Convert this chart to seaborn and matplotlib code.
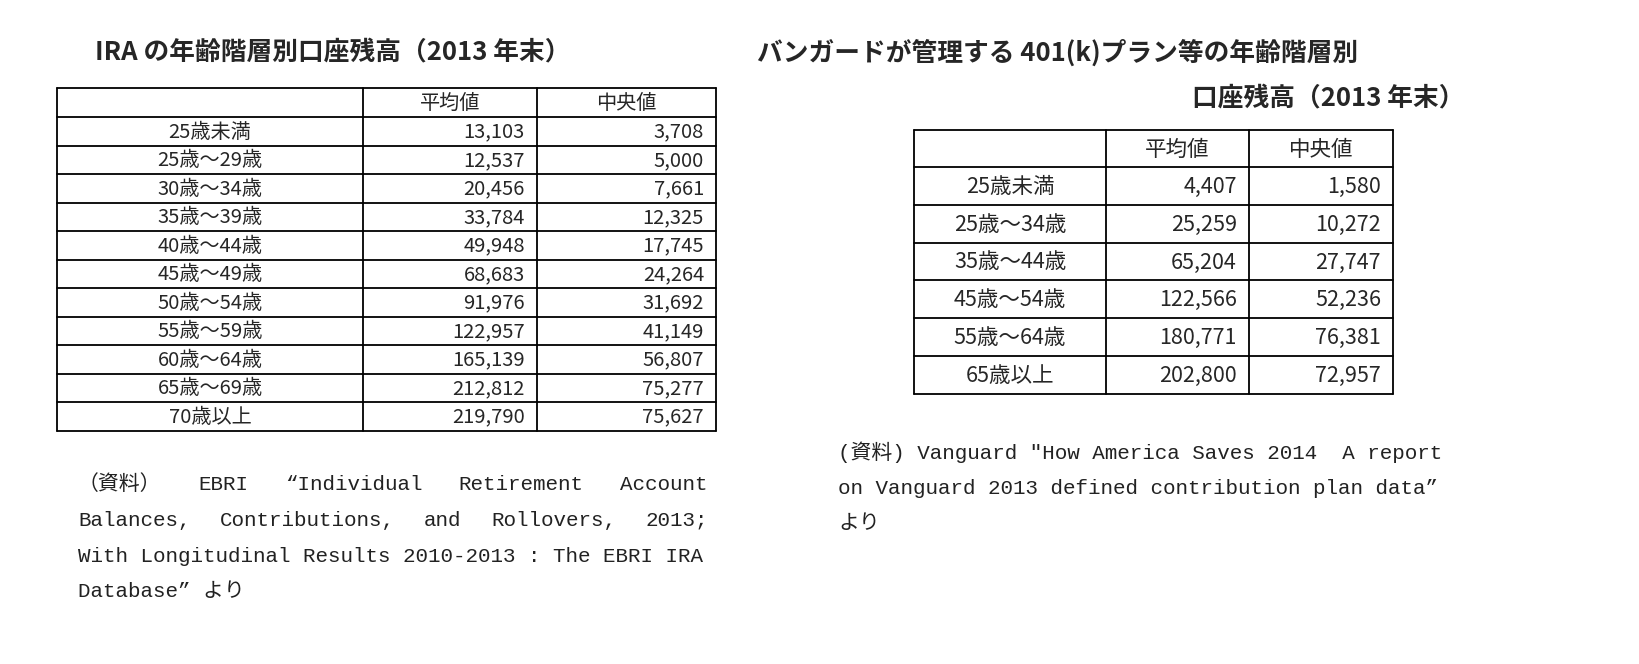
import matplotlib
matplotlib.use("Agg")
import matplotlib.pyplot as plt
import seaborn as sns

sns.set_theme(style="white")
plt.rcParams["font.family"] = "Noto Sans CJK JP"

ira_headers = ["", "平均値", "中央値"]
ira_ages = ["25歳未満", "25歳～29歳", "30歳～34歳", "35歳～39歳", "40歳～44歳", "45歳～49歳",
            "50歳～54歳", "55歳～59歳", "60歳～64歳", "65歳～69歳", "70歳以上"]
ira_mean = [13103, 12537, 20456, 33784, 49948, 68683, 91976, 122957, 165139, 212812, 219790]
ira_median = [3708, 5000, 7661, 12325, 17745, 24264, 31692, 41149, 56807, 75277, 75627]

vg_headers = ["", "平均値", "中央値"]
vg_ages = ["25歳未満", "25歳～34歳", "35歳～44歳", "45歳～54歳", "55歳～64歳", "65歳以上"]
vg_mean = [4407, 25259, 65204, 122566, 180771, 202800]
vg_median = [1580, 10272, 27747, 52236, 76381, 72957]

fig = plt.figure(figsize=(16.4, 6.64), dpi=100)
ax = fig.add_axes([0, 0, 1, 1])
ax.set_xlim(0, 1640)
ax.set_ylim(664, 0)
ax.axis("off")

def draw_table(cols, top, head_h, row_h, headers, ages, mean, median, fs):
    n = len(ages)
    bottom = top + head_h + n * row_h
    ys = [top, top + head_h] + [top + head_h + (i + 1) * row_h for i in range(n)]
    for y in ys:
        ax.plot([cols[0], cols[-1]], [y, y], color="black", lw=1.3)
    for x in cols:
        ax.plot([x, x], [top, bottom], color="black", lw=1.3)
    for j in (1, 2):
        ax.text((cols[j] + cols[j + 1]) / 2, top + head_h / 2 + 1, headers[j],
                ha="center", va="center", fontsize=fs)
    for i, (a, m, md) in enumerate(zip(ages, mean, median)):
        yc = top + head_h + (i + 0.5) * row_h + 1
        ax.text((cols[0] + cols[1]) / 2, yc, a, ha="center", va="center", fontsize=fs)
        ax.text(cols[2] - 12, yc, f"{m:,}", ha="right", va="center", fontsize=fs)
        ax.text(cols[3] - 12, yc, f"{md:,}", ha="right", va="center", fontsize=fs)

draw_table([57, 363, 537, 716], 88, 29, 28.5, ira_headers, ira_ages, ira_mean, ira_median, 14.5)
draw_table([914, 1106, 1249, 1393], 130, 37, 37.8, vg_headers, vg_ages, vg_mean, vg_median, 15.5)

ax.text(95, 53, "IRA の年齢階層別口座残高（2013 年末）", fontsize=18.5, fontweight="bold", va="center", ha="left")
ax.text(757, 53, "バンガードが管理する 401(k)プラン等の年齢階層別", fontsize=18.5, fontweight="bold", va="center", ha="left")
ax.text(1465, 99, "口座残高（2013 年末）", fontsize=18.5, fontweight="bold", va="center", ha="right")

mono = ["Liberation Mono", "Noto Sans CJK JP"]

def justified(words, x0, x1, y):
    fig.canvas.draw()
    r = fig.canvas.get_renderer()
    ts = [ax.text(0, y, w, fontsize=15, va="center", ha="left", color="#222222", family=mono) for w in words]
    inv = ax.transData.inverted()
    widths = []
    for t in ts:
        bb = t.get_window_extent(r)
        (a, _), (b, _) = inv.transform([[bb.x0, 0], [bb.x1, 0]])
        widths.append(b - a)
    gap = (x1 - x0 - sum(widths)) / (len(words) - 1)
    x = x0
    for t, w in zip(ts, widths):
        t.set_x(x)
        x += w + gap

justified(["（資料）", "EBRI", "“Individual", "Retirement", "Account"], 78, 708, 484)
justified(["Balances,", "Contributions,", "and", "Rollovers,", "2013;"], 78, 708, 520)
ax.text(78, 556, "With Longitudinal Results 2010-2013 : The EBRI IRA", fontsize=15, va="center",
        ha="left", color="#222222", family=mono)
ax.text(78, 591, "Database” より", fontsize=15, va="center", ha="left", color="#222222", family=mono)

right_src = ["(資料) Vanguard \"How America Saves 2014  A report",
             "on Vanguard 2013 defined contribution plan data”",
             "より"]
for i, s in enumerate(right_src):
    ax.text(838, 452 + i * 36, s, fontsize=15, va="center", ha="left", color="#222222", family=mono)

fig.savefig("out.png", dpi=100, facecolor="white")
